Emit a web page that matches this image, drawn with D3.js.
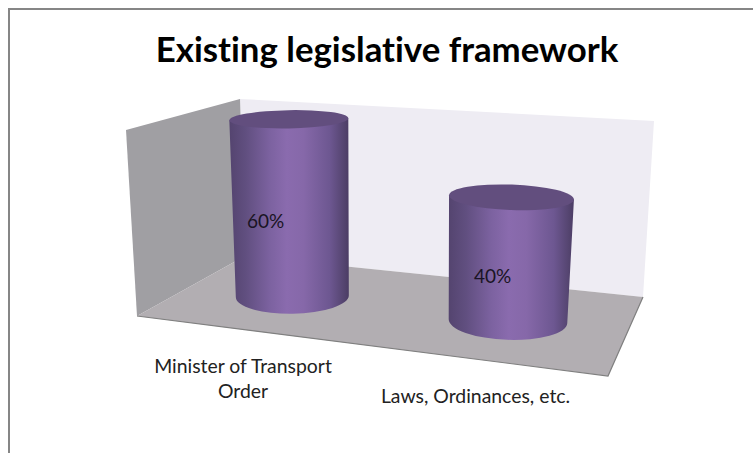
<!DOCTYPE html>
<html>
<head>
<meta charset="utf-8">
<script src="https://cdn.jsdelivr.net/npm/d3@7"></script>
<style>
html, body { margin: 0; padding: 0; background: #fff; }
svg { display: block; }
text { font-family: Lato, "Open Sans", sans-serif; font-variant-ligatures: none; }
</style>
</head>
<body>
<svg id="chart" width="753" height="453"></svg>
<script>
// Chart content
const chartTitle = "Existing legislative framework";
const categories = ["Minister of Transport Order", "Laws, Ordinances, etc."];
const categoryLines = [["Minister of Transport", "Order"], ["Laws, Ordinances, etc."]];
const shares = [60, 40];

// 3D box corners on screen
const box = {
  backTopLeft: [240, 99], backTopRight: [654, 121],
  backBottomLeft: [245, 256], backBottomRight: [643, 297],
  frontBottomLeft: [137, 316], frontBottomRight: [608, 376],
  frontTopLeft: [126, 130]
};

const svg = d3.select("#chart");
const poly = pts => "M" + pts.map(p => p.join(",")).join("L") + "Z";

// Chart frame: only top and left edges fall inside the page
svg.append("path")
  .attr("d", "M753,9H9V453")
  .attr("fill", "none").attr("stroke", "#868686").attr("stroke-width", 2);

svg.append("text")
  .attr("x", 387).attr("y", 62)
  .attr("text-anchor", "middle")
  .attr("font-size", 34.8).attr("font-weight", 700).attr("fill", "#000")
  .text(chartTitle);

// Walls and floor
svg.append("path").attr("fill", "#eeecf3")
  .attr("d", poly([box.backTopLeft, box.backTopRight, box.backBottomRight, box.backBottomLeft]));
svg.append("path").attr("fill", "#a09fa3")
  .attr("d", poly([box.frontTopLeft, box.backTopLeft, box.backBottomLeft, box.frontBottomLeft]));
svg.append("path").attr("fill", "#b2aeb2")
  .attr("d", poly([box.backBottomLeft, box.backBottomRight, box.frontBottomRight, box.frontBottomLeft]));
svg.append("path")
  .attr("d", "M" + [box.backBottomRight, box.frontBottomRight, box.frontBottomLeft].map(p => p.join(",")).join("L"))
  .attr("fill", "none").attr("stroke", "#7f7f7f").attr("stroke-width", 1.2);

// Scales: position along the floor, perspective enlargement, value to height
const uRange = [0.229, 0.727];
const uScale = d3.scalePoint().domain(categories).range(uRange);
const perspective = d3.scaleLinear().domain(uRange).range([1, 1.05]);
const heightScale = d3.scaleLinear().domain([0, 60]).range([0, 177]);
const leanScale = d3.scaleLinear().domain(uRange).range([-3.5, 3.5]);
const tiltScale = d3.scaleLinear().domain(uRange).range([-1, 2]);
const ryScale = d3.scaleLinear().domain([100, 340]).range([8.2, 19.5]);
const floorDepth = 0.52;

function floorPoint(u, d) {
  const lerp = (a, b, t) => [a[0] + (b[0] - a[0]) * t, a[1] + (b[1] - a[1]) * t];
  const left = lerp(box.frontBottomLeft, box.backBottomLeft, d);
  const right = lerp(box.frontBottomRight, box.backBottomRight, d);
  return lerp(left, right, u);
}

// Shaded barrel of each cylinder, lit near the middle
const defs = svg.append("defs");
const grad = defs.append("linearGradient").attr("id", "barrel");
[[0, "#54446f"], [0.14, "#614f80"], [0.34, "#7c62a0"], [0.48, "#8a6bae"], [0.62, "#8668a9"],
 [0.84, "#6d5791"], [0.96, "#54446f"], [1, "#4b3c64"]]
  .forEach(([o, c]) => grad.append("stop").attr("offset", o).attr("stop-color", c));

const labelOffsets = [[-25, 14], [-17, 18]];

categories.forEach((cat, i) => {
  const u = uScale(cat);
  const k = perspective(u);
  const [bx, by] = floorPoint(u, floorDepth);
  const h = heightScale(shares[i]) * k;
  const tx = bx + leanScale(u), ty = by - h;
  const rBase = 56.5 * k, rTop = 59.5 * k;
  const ryBase = ryScale(by), ryTop = ryScale(ty);
  const tilt = tiltScale(u), rad = tilt * Math.PI / 180;

  const edge = (cx, cy, r, s) => [cx + s * r * Math.cos(rad), cy + s * r * Math.sin(rad)];
  const tl = edge(tx, ty, rTop, -1), tr = edge(tx, ty, rTop, 1);
  const bl = edge(bx, by, rBase, -1), br = edge(bx, by, rBase, 1);

  svg.append("path")
    .attr("fill", "url(#barrel)")
    .attr("d", `M${tl}L${bl}A${rBase},${ryBase} ${tilt} 0 0 ${br}L${tr}Z`);
  svg.append("path")
    .attr("fill", "#624e7e")
    .attr("d", `M${tl}A${rTop},${ryTop} ${tilt} 0 1 ${tr}A${rTop},${ryTop} ${tilt} 0 1 ${tl}Z`);

  svg.append("text")
    .attr("x", (tx + bx) / 2 + labelOffsets[i][0])
    .attr("y", (ty + by) / 2 + labelOffsets[i][1] + 6)
    .attr("text-anchor", "middle")
    .attr("font-size", 19).attr("fill", "#1a1424")
    .text(shares[i] + "%");
});

// Category labels beneath the floor
const labelAnchors = [[243, 373], [475.5, 403]];
categoryLines.forEach((lines, i) => {
  const t = svg.append("text")
    .attr("text-anchor", "middle")
    .attr("font-size", 19.4).attr("fill", "#222");
  lines.forEach((line, j) => {
    t.append("tspan")
      .attr("x", labelAnchors[i][0])
      .attr("y", labelAnchors[i][1] + j * 25)
      .text(line);
  });
});
</script>
</body>
</html>
